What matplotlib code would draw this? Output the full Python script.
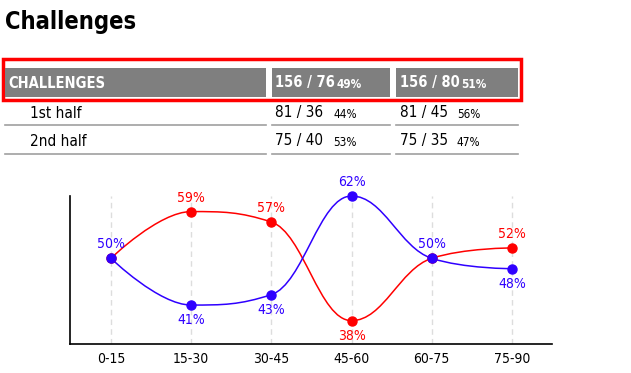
import matplotlib
matplotlib.use("Agg")
import matplotlib.pyplot as plt
from matplotlib.patches import Rectangle
from matplotlib.lines import Line2D
from matplotlib.path import Path
from matplotlib.patches import PathPatch

plt.rcParams['font.family'] = ['DejaVu Sans']
plt.rcParams['font.stretch'] = 'condensed'

# ---------------- data ----------------
title = "Challenges"
header_label = "CHALLENGES"
header_team1 = "156 / 76"
header_team1_pct = "49%"
header_team2 = "156 / 80"
header_team2_pct = "51%"
row_labels = ["1st half", "2nd half"]
team1_vals = ["81 / 36", "75 / 40"]
team1_pcts = ["44%", "53%"]
team2_vals = ["81 / 45", "75 / 35"]
team2_pcts = ["56%", "47%"]

categories = ["0-15", "15-30", "30-45", "45-60", "60-75", "75-90"]
red_values = [50, 59, 57, 38, 50, 52]
blue_values = [50, 41, 43, 62, 50, 48]

RED = "#ff0000"
BLUE = "#2f00ff"
GRAY = "#7f7f7f"

W, H = 631, 373
fig = plt.figure(figsize=(W / 100, H / 100), dpi=100)


def fx(x):
    return x / W


def fy(y):
    return (H - y) / H


# ---------------- title ----------------
fig.text(fx(5), fy(29), title, fontsize=17, fontweight='bold', color='black',
         va='baseline', ha='left')

# ---------------- table ----------------
fig.patches.append(Rectangle((fx(3), fy(100)), fx(518), (100 - 59) / H,
                             transform=fig.transFigure, fill=False,
                             edgecolor=RED, linewidth=2.5))
cols = [(5, 266), (272, 390), (396, 518)]
for x0, x1 in cols:
    fig.patches.append(Rectangle((fx(x0), fy(97)), fx(x1 - x0), (97 - 68) / H,
                                 transform=fig.transFigure, facecolor=GRAY,
                                 edgecolor='none'))
    for yl in (125, 154):
        fig.lines.append(Line2D([fx(x0), fx(x1)], [fy(yl), fy(yl)],
                                transform=fig.transFigure, color='#a0a0a0',
                                linewidth=1.2))

hy = 83
fig.text(fx(8), fy(hy), header_label, color='white', fontsize=10.5,
         fontweight='bold', va='center', ha='left')
fig.text(fx(275), fy(hy), header_team1, color='white', fontsize=10.5,
         fontweight='bold', va='center', ha='left')
fig.text(fx(337), fy(hy + 1), header_team1_pct, color='white', fontsize=8.5,
         fontweight='bold', va='center', ha='left')
fig.text(fx(400), fy(hy), header_team2, color='white', fontsize=10.5,
         fontweight='bold', va='center', ha='left')
fig.text(fx(461), fy(hy + 1), header_team2_pct, color='white', fontsize=8.5,
         fontweight='bold', va='center', ha='left')

row_y = [113, 141]
for i, ry in enumerate(row_y):
    fig.text(fx(30), fy(ry), row_labels[i], fontsize=11, va='center', ha='left')
    fig.text(fx(275), fy(ry), team1_vals[i], fontsize=11, va='center', ha='left')
    fig.text(fx(333), fy(ry + 1), team1_pcts[i], fontsize=8.5, va='center', ha='left')
    fig.text(fx(400), fy(ry), team2_vals[i], fontsize=11, va='center', ha='left')
    fig.text(fx(457), fy(ry + 1), team2_pcts[i], fontsize=8.5, va='center', ha='left')

# ---------------- chart ----------------
ax = fig.add_axes([fx(70), fy(344), fx(552 - 70), (344 - 196) / H])
ax.set_xlim(-0.51, len(categories) - 0.5)
ax.set_ylim(33.5, 62)
for s in ('top', 'right'):
    ax.spines[s].set_visible(False)
ax.spines['left'].set_linewidth(1.2)
ax.spines['bottom'].set_linewidth(1.2)
ax.set_yticks([])
ax.set_xticks(range(len(categories)))
ax.set_xticklabels(categories, fontsize=10)
ax.tick_params(axis='x', length=0, pad=6)
for i in range(len(categories)):
    ax.axvline(i, color='#dddddd', linewidth=1, linestyle=(0, (4, 3)), zorder=0)


def spline_path(xs, ys):
    """Highcharts-style spline control points."""
    n = len(xs)
    smoothing = 1.5
    denom = smoothing + 1
    left = [(xs[i], ys[i]) for i in range(n)]
    right = [(xs[i], ys[i]) for i in range(n)]
    for i in range(1, n - 1):
        x, y = xs[i], ys[i]
        lx, ly = xs[i - 1], ys[i - 1]
        nx, ny = xs[i + 1], ys[i + 1]
        lcx = (smoothing * x + lx) / denom
        lcy = (smoothing * y + ly) / denom
        rcx = (smoothing * x + nx) / denom
        rcy = (smoothing * y + ny) / denom
        corr = 0
        if rcx != lcx:
            corr = (rcy - lcy) * (rcx - x) / (rcx - lcx) + y - rcy
        lcy += corr
        rcy += corr
        if lcy > ly and lcy > y:
            lcy = max(ly, y)
            rcy = 2 * y - lcy
        elif lcy < ly and lcy < y:
            lcy = min(ly, y)
            rcy = 2 * y - lcy
        if rcy > ny and rcy > y:
            rcy = max(ny, y)
            lcy = 2 * y - rcy
        elif rcy < ny and rcy < y:
            rcy = min(ny, y)
            lcy = 2 * y - rcy
        left[i] = (lcx, lcy)
        right[i] = (rcx, rcy)
    verts = [(xs[0], ys[0])]
    codes = [Path.MOVETO]
    for i in range(n - 1):
        verts += [right[i], left[i + 1], (xs[i + 1], ys[i + 1])]
        codes += [Path.CURVE4] * 3
    return Path(verts, codes)


xs = list(range(len(categories)))
for vals, col in ((red_values, RED), (blue_values, BLUE)):
    ax.add_patch(PathPatch(spline_path(xs, vals), fill=False, edgecolor=col,
                           linewidth=1.1, zorder=2))
    ax.plot(xs, vals, linestyle='none', marker='o', markersize=6.5,
            color=col, zorder=3, clip_on=False)

for i in xs:
    r, b = red_values[i], blue_values[i]
    if r != b:
        ax.annotate(f"{r}%", (i, r), xytext=(0, 10 if r > b else -11),
                    textcoords='offset points', ha='center', va='center',
                    color=RED, fontsize=10, annotation_clip=False)
    ax.annotate(f"{b}%", (i, b), xytext=(0, 10 if b >= r else -11),
                textcoords='offset points', ha='center', va='center',
                color=BLUE, fontsize=10, annotation_clip=False)

fig.savefig("out.png", dpi=100)
